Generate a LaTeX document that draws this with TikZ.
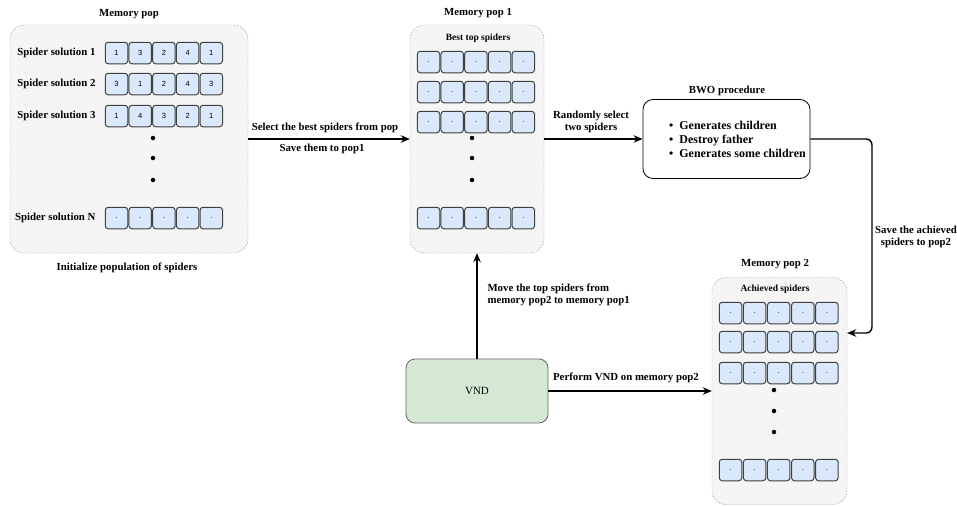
\documentclass[tikz,border=0pt]{standalone}
\usepackage{fontspec}
\setmainfont{Liberation Serif}
\newfontfamily\cellfont{Liberation Sans}
\usetikzlibrary{arrows.meta}
\definecolor{popgray}{RGB}{245,245,245}
\definecolor{cellblue}{RGB}{218,232,252}
\definecolor{vndgreen}{RGB}{213,232,212}

\begin{document}
\begin{tikzpicture}[x=1pt,y=-1pt,
    popbox/.style={draw=black!45, dash pattern=on 1.5pt off 1.5pt, fill=popgray, rounded corners=14pt},
    cell/.style={draw=black!75, line width=1pt, fill=cellblue, rounded corners=3pt, minimum width=22.5pt, minimum height=21.5pt, inner sep=0pt, font=\cellfont\fontsize{7.5}{9}\selectfont},
    lbl/.style={font=\fontsize{10.8}{12.5}\selectfont\bfseries, align=center},
    flow/.style={line width=1.4pt, -{Stealth[length=9pt,width=7.5pt]}},
    popdot/.style={circle, fill=black, inner sep=0pt, minimum size=4.5pt}]
    \useasboundingbox (0,0) rectangle (957,506);

    % Memory pop
    \node[popbox, minimum width=238pt, minimum height=228pt] (pop) at (129,139) {};
    \node[lbl] (poptitle) at (129,14) {Memory pop};
    \node[lbl] (popinit) at (127,268) {Initialize population of spiders};
    \node[lbl, anchor=east] (sol1) at (99,53) {Spider solution 1};
    \node[lbl, anchor=east] (sol2) at (99,84) {Spider solution 2};
    \node[lbl, anchor=east] (sol3) at (99,116) {Spider solution 3};
    \node[lbl, anchor=east] (solN) at (99,218) {Spider solution N};
    \foreach \v [count=\i] in {1,3,2,4,1}
        \node[cell] (pa\i) at ({116.5+(\i-1)*23.7},53) {\v};
    \foreach \v [count=\i] in {3,1,2,4,3}
        \node[cell] (pb\i) at ({116.5+(\i-1)*23.7},84) {\v};
    \foreach \v [count=\i] in {1,4,3,2,1}
        \node[cell] (pc\i) at ({116.5+(\i-1)*23.7},116) {\v};
    \foreach \i in {1,...,5}
        \node[cell] (pn\i) at ({116.5+(\i-1)*23.7},218) {.};
    \foreach \y [count=\i] in {138,158,180}
        \node[popdot] (pd\i) at (153,\y) {};

    % Memory pop 1
    \node[popbox, minimum width=134pt, minimum height=228pt] (pop1) at (477,139) {};
    \node[lbl] (pop1title) at (478,13) {Memory pop 1};
    \node[lbl, font=\fontsize{9.5}{11}\selectfont\bfseries] (best) at (478,38) {Best top spiders};
    \foreach \y [count=\r] in {62,92,122,218}
        \foreach \i in {1,...,5}
            \node[cell] (q\r c\i) at ({428.5+(\i-1)*23.7},\y) {.};
    \foreach \y [count=\i] in {138,158,180}
        \node[popdot] (qd\i) at (472,\y) {};

    % BWO procedure
    \node[draw, line width=0.8pt, rounded corners=10pt, minimum width=167pt, minimum height=79pt, inner xsep=0pt, align=left,
        font=\fontsize{12}{14}\selectfont\bfseries] (bwo) at (726.5,139)
        {\hspace*{22pt}\textbullet\hspace{6pt}Generates children\\ \hspace*{22pt}\textbullet\hspace{6pt}Destroy father\\ \hspace*{22pt}\textbullet\hspace{6pt}Generates some children};
    \node[lbl] (bwotitle) at (727,91) {BWO procedure};

    % Memory pop 2
    \node[popbox, minimum width=135pt, minimum height=227pt] (pop2) at (779.5,391) {};
    \node[lbl] (pop2title) at (775,264) {Memory pop 2};
    \node[lbl, font=\fontsize{9.5}{11}\selectfont\bfseries] (achieved) at (775,289) {Achieved spiders};
    \foreach \y [count=\r] in {313,342,373,470}
        \foreach \i in {1,...,5}
            \node[cell] (m\r c\i) at ({730.5+(\i-1)*24.1},\y) {.};
    \foreach \y [count=\i] in {390,411,432}
        \node[popdot] (md\i) at (774,\y) {};

    % VND
    \node[draw=black!60, line width=0.8pt, fill=vndgreen, rounded corners=9pt, minimum width=142pt, minimum height=64pt,
        font=\fontsize{11}{13}\selectfont] (vnd) at (477,391) {VND};

    % Connectors
    \draw[flow] (pop) -- (pop1);
    \node[lbl] (selectlbl) at (325,128) {Select the best spiders from pop};
    \node[lbl] (savelbl) at (322,149) {Save them to pop1};

    \draw[flow] (pop1) -- (bwo);
    \node[lbl] (randlbl) at (591,122) {Randomly select\\two spiders};

    \coordinate (bend) at (872,333);
    \draw[flow, rounded corners=6pt] (bwo.east) -| (bend) -- (pop2.east |- bend);
    \node[lbl] (achlbl) at (916,237) {Save the achieved\\spiders to pop2};

    \draw[flow] (vnd) -- (pop1);
    \node[lbl, anchor=west, align=left] (movelbl) at (484,295) {Move the top spiders from\\memory pop2 to memory pop1};

    \draw[flow] (vnd) -- (pop2);
    \node[lbl] (vndlbl) at (626,378) {Perform VND on memory pop2};
\end{tikzpicture}
\end{document}
